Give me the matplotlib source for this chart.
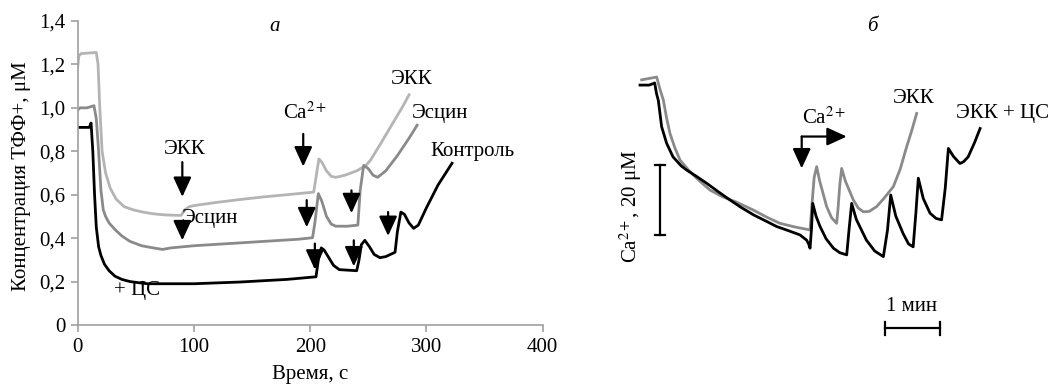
import matplotlib
matplotlib.use("Agg")
import matplotlib.pyplot as plt

plt.rcParams['font.family'] = ['Liberation Serif', 'DejaVu Serif']
plt.rcParams['mathtext.fontset'] = 'stix'
plt.rcParams['font.size'] = 15

# --- panel а: TPP+ concentration, uM vs time, s
t_ekk = [0, 1, 3, 16, 17.5, 19, 21, 24, 28, 33, 40, 48, 56, 65, 75, 86, 89, 92, 96, 100,
         120, 140, 160, 180, 203, 205, 207.5, 210, 214, 218, 222, 230, 240, 248, 252, 260,
         270, 280, 285]
c_ekk = [1.19, 1.24, 1.25, 1.255, 1.20, 1.0, 0.80, 0.70, 0.63, 0.58, 0.545, 0.53, 0.52,
         0.512, 0.507, 0.505, 0.505, 0.53, 0.545, 0.55, 0.565, 0.578, 0.59, 0.60, 0.612,
         0.68, 0.765, 0.75, 0.71, 0.685, 0.68, 0.69, 0.71, 0.735, 0.76, 0.83, 0.92, 1.01, 1.06]

t_esc = [0, 2, 8, 14, 16, 18, 20, 22, 24, 27, 32, 38, 45, 55, 65, 73, 80, 90, 100, 130,
         160, 190, 202, 204, 207, 210, 214, 218, 222, 232, 241, 243, 246, 250, 254, 258,
         265, 275, 285, 292]
c_esc = [0.99, 1.0, 1.0, 1.01, 0.95, 0.8, 0.62, 0.53, 0.50, 0.47, 0.44, 0.41, 0.385,
         0.365, 0.355, 0.348, 0.355, 0.36, 0.365, 0.375, 0.385, 0.395, 0.402, 0.47, 0.605,
         0.57, 0.5, 0.465, 0.455, 0.455, 0.46, 0.62, 0.735, 0.72, 0.69, 0.68, 0.71, 0.78,
         0.86, 0.92]

t_ctl = [0, 10, 11.5, 13, 14.5, 16, 18, 20, 23, 27, 32, 38, 45, 52, 60, 80, 100, 140, 180,
         205, 207, 209.5, 212, 216, 220, 225, 240, 242, 244, 247, 251, 255, 260, 265, 273,
         275, 278, 281, 285, 289, 293, 300, 310, 322]
c_ctl = [0.91, 0.91, 0.93, 0.80, 0.60, 0.45, 0.36, 0.32, 0.28, 0.25, 0.225, 0.21, 0.2,
         0.195, 0.19, 0.19, 0.19, 0.198, 0.21, 0.222, 0.30, 0.355, 0.345, 0.31, 0.275,
         0.255, 0.25, 0.30, 0.37, 0.39, 0.36, 0.325, 0.31, 0.315, 0.335, 0.43, 0.52, 0.51,
         0.47, 0.445, 0.46, 0.54, 0.645, 0.745]

yticks = [0, 0.2, 0.4, 0.6, 0.8, 1.0, 1.2, 1.4]
ytick_labels = ['0', '0,2', '0,4', '0,6', '0,8', '1,0', '1,2', '1,4']
xticks = [0, 100, 200, 300, 400]

# --- panel б: cytosolic Ca2+, uM vs time, s
tb_ekk = [1.8, 10, 18.2, 22, 25.5, 29, 32.7, 38, 43.6, 55, 65, 76.4, 90, 105, 123.6, 138,
          152.7, 170, 180, 185.5, 187.5, 190, 192.7, 196, 203.6, 209, 214.5, 216, 218, 220,
          224, 232.7, 238, 243.6, 250, 258.2, 266, 276.4, 284, 290.9, 296, 301.8]
cb_ekk = [62.9, 63.3, 63.7, 60, 57.1, 52, 47.6, 43.5, 40, 36.5, 34, 31.4, 29.5, 28, 25.7,
          23.7, 21.9, 20.8, 20.3, 20, 27, 35, 38.1, 34, 26.7, 23.5, 21.9, 26, 33, 37.6, 34,
          28.6, 26.3, 25.2, 25.3, 26.7, 29, 32.4, 37.5, 43.8, 48, 53.3]

tb_cs = [0, 10, 16, 18, 20, 23.6, 29, 36, 45, 51, 60, 73, 85, 98, 110, 124, 137, 149, 162,
         174.5, 181.8, 184, 185.5, 187, 188.4, 192, 196.4, 203, 211, 218, 225.5, 228, 230.9,
         236, 247, 256, 265.5, 270, 273.5, 279, 287, 293, 298, 301, 303.6, 309, 316.4, 323,
         329, 333, 336.4, 342, 349, 353, 358, 365, 371]
cb_cs = [61.4, 61.4, 62, 59, 57, 49.5, 44.8, 40.9, 38.3, 37.1, 35.6, 33.3, 31, 28.6, 26.5,
         24.3, 22.6, 21, 19.8, 18.6, 17.1, 16, 14.8, 20, 27.6, 24, 21, 17.5, 14.8, 13.5,
         12.9, 20, 27.6, 23, 17.1, 14, 12.4, 20, 30, 24, 19, 16, 15.2, 25, 34.8, 29, 24.8,
         23.3, 22.9, 32, 43.3, 41, 39, 39.5, 40.9, 45, 49]

fig = plt.figure(figsize=(10.52, 3.86), dpi=100)

arrow = dict(arrowstyle='-|>,head_length=1.2,head_width=0.55', color='k', lw=1.6,
             shrinkA=0, shrinkB=0, mutation_scale=10)


def down_arrow(ax, x, y0, y1):
    ax.annotate('', xy=(x, y1), xytext=(x, y0), arrowprops=arrow)


# panel а
ax = fig.add_axes([77.7 / 1052, 61 / 386, 465 / 1052, 304 / 386])
ax.plot(t_ekk, c_ekk, color='#b4b4b4', lw=2)
ax.plot(t_esc, c_esc, color='#8a8a8a', lw=2)
ax.plot(t_ctl, c_ctl, color='k', lw=2)
ax.set_xlim(0, 400)
ax.set_ylim(0, 1.4)
ax.set_xticks(xticks)
ax.set_yticks(yticks)
ax.set_yticklabels(ytick_labels)
for s in ['top', 'right']:
    ax.spines[s].set_visible(False)
for s in ['left', 'bottom']:
    ax.spines[s].set_color('#a0a0a0')
    ax.spines[s].set_linewidth(1.2)
ax.tick_params(length=5, width=1.2, color='#a0a0a0', pad=4)
ax.set_xlabel('Время, с')
ax.xaxis.set_label_coords(0.5, -0.132)
ax.set_ylabel('Концентрация ТФФ+, μM')
ax.yaxis.set_label_coords(-0.10, 0.49)

ax.text(92, 0.806, 'ЭКК', ha='center', va='center')
down_arrow(ax, 90, 0.75, 0.59)
ax.text(114, 0.49, 'Эсцин', ha='center', va='center')
down_arrow(ax, 90, 0.48, 0.39)
ax.text(195.5, 0.975, 'Ca$^{2+}$', ha='center', va='center')
down_arrow(ax, 194, 0.88, 0.73)
down_arrow(ax, 197, 0.575, 0.45)
down_arrow(ax, 235.5, 0.62, 0.515)
down_arrow(ax, 204, 0.375, 0.255)
down_arrow(ax, 237.5, 0.39, 0.27)
down_arrow(ax, 267, 0.52, 0.41)
ax.text(50.7, 0.16, '+ ЦС', ha='center', va='center')
ax.text(287.6, 1.129, 'ЭКК', ha='center', va='center')
ax.text(312, 0.976, 'Эсцин', ha='center', va='center')
ax.text(339.6, 0.799, 'Контроль', ha='center', va='center')

# panel б, no axes, scale bars only
bx = fig.add_axes([600 / 1052, 0, 452 / 1052, 1])
bx.axis('off')
bx.set_xlim(-43.64, 449.45)
bx.set_ylim(-24.57, 85.71)
bx.plot(tb_ekk, cb_ekk, color='#8a8a8a', lw=2)
bx.plot(tb_cs, cb_cs, color='k', lw=2)

bx.plot([21.8, 21.8], [18.57, 38.57], color='k', lw=1.6)
bx.plot([16.4, 27.3], [18.57, 18.57], color='k', lw=1.6)
bx.plot([16.4, 27.3], [38.57, 38.57], color='k', lw=1.6)
bx.text(-9.8, 26.7, 'Ca$^{2+}$, 20 μM', rotation=90, ha='center', va='center')

bx.plot([267.3, 327.3], [-8.1, -8.1], color='k', lw=1.6)
bx.plot([267.3, 267.3], [-9.96, -6.24], color='k', lw=1.6)
bx.plot([327.3, 327.3], [-9.96, -6.24], color='k', lw=1.6)
bx.text(296.4, -1.9, '1 мин', ha='center', va='center')

bx.annotate('', xy=(176.4, 37.6), xytext=(176.4, 46.7), arrowprops=arrow)
bx.annotate('', xy=(225.5, 46.7), xytext=(176.4, 46.7), arrowprops=arrow)
bx.text(200.7, 51.9, 'Ca$^{2+}$', ha='center', va='center')
bx.text(299, 57.6, 'ЭКК', ha='center', va='center')
bx.text(395.5, 53.3, 'ЭКК + ЦС', ha='center', va='center')

fig.text(275 / 1052, 1 - 26.7 / 386, 'а', style='italic', ha='center', va='center')
fig.text(872 / 1052, 1 - 26.7 / 386, 'б', style='italic', ha='center', va='center')

fig.savefig('out.png', dpi=100)
